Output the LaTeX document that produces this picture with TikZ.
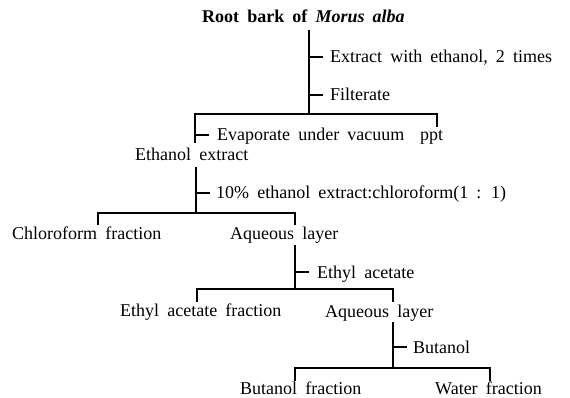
\documentclass[tikz,border=0pt]{standalone}
\usepackage{fontspec}
\setmainfont{Liberation Serif}[WordSpace=1.8]
\begin{document}
\begin{tikzpicture}[x=1pt,y=-1pt,
  lbl/.style={anchor=base west,inner sep=0pt,font=\fontsize{18}{20}\selectfont},
  ln/.style={line width=1.3pt,line cap=butt}]
\useasboundingbox (0,0) rectangle (570,398);
% texts
\node[lbl,font=\fontsize{18}{20}\selectfont\bfseries] (root) at (202,23) {Root bark of \textit{Morus alba}};
\node[lbl] (ext) at (330,63) {Extract with ethanol, 2 times};
\node[lbl] (fil) at (330,101) {Filterate};
\node[lbl] (eva) at (217,141) {Evaporate under vacuum};
\node[lbl] (ppt) at (420,141) {ppt};
\node[lbl] (eth) at (135,161) {Ethanol extract};
\node[lbl] (chl) at (216,199) {10\% ethanol extract:chloroform(1 : 1)};
\node[lbl] (cfr) at (12,239) {Chloroform fraction};
\node[lbl] (aq1) at (230,239) {Aqueous layer};
\node[lbl] (eta) at (317,278) {Ethyl acetate};
\node[lbl] (efr) at (120,316) {Ethyl acetate fraction};
\node[lbl] (aq2) at (325,317) {Aqueous layer};
\node[lbl] (but) at (413,353) {Butanol};
\node[lbl] (bfr) at (240,394) {Butanol fraction};
\node[lbl] (wfr) at (435,394) {Water fraction};
% junction coordinates
\coordinate (v1t) at (309,30);  \coordinate (v1b) at (309,114);
\coordinate (t1a) at (309,57);  \coordinate (t1b) at (323,57);
\coordinate (t2a) at (309,95);  \coordinate (t2b) at (323,95);
\coordinate (h1l) at (195,114); \coordinate (h1r) at (437,114);
\coordinate (d1l) at (195,143); \coordinate (d1r) at (437,127);
\coordinate (t3a) at (195,135); \coordinate (t3b) at (209,135);
\coordinate (v2t) at (196,167); \coordinate (v2b) at (196,213);
\coordinate (t4a) at (196,193); \coordinate (t4b) at (210,193);
\coordinate (h2l) at (98,213);  \coordinate (h2r) at (295,213);
\coordinate (d2l) at (98,225);  \coordinate (d2r) at (295,225);
\coordinate (v3t) at (295,245); \coordinate (v3b) at (295,289);
\coordinate (t5a) at (295,272); \coordinate (t5b) at (309,272);
\coordinate (h3l) at (197,289); \coordinate (h3r) at (393,289);
\coordinate (d3l) at (197,302); \coordinate (d3r) at (393,302);
\coordinate (v4t) at (393,322); \coordinate (v4b) at (393,368);
\coordinate (t6a) at (393,347); \coordinate (t6b) at (407,347);
\coordinate (h4l) at (295,368); \coordinate (h4r) at (490,368);
\coordinate (d4l) at (295,381); \coordinate (d4r) at (490,381);
% lines
\draw[ln] (v1t) -- (v1b);
\draw[ln] (t1a) -- (t1b);
\draw[ln] (t2a) -- (t2b);
\draw[ln] (d1l) -- (h1l) -- (h1r) -- (d1r);
\draw[ln] (t3a) -- (t3b);
\draw[ln] (v2t) -- (v2b);
\draw[ln] (t4a) -- (t4b);
\draw[ln] (d2l) -- (h2l) -- (h2r) -- (d2r);
\draw[ln] (v3t) -- (v3b);
\draw[ln] (t5a) -- (t5b);
\draw[ln] (d3l) -- (h3l) -- (h3r) -- (d3r);
\draw[ln] (v4t) -- (v4b);
\draw[ln] (t6a) -- (t6b);
\draw[ln] (d4l) -- (h4l) -- (h4r) -- (d4r);
\end{tikzpicture}
\end{document}
